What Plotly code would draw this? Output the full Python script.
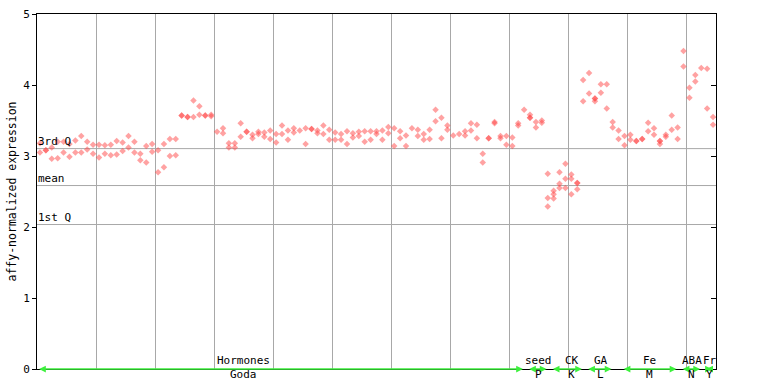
import plotly.graph_objects as go

# ---- data: replicate values per sample (None = no replicate) ----
rep1 = [3.18, 3.08, 3.12, 3.20, 3.20, 3.17, 3.22, 3.28, 3.20, 3.16,
        3.16, 3.15, 3.16, 3.21, 3.19, 3.28, 3.20, 3.03, 3.14, 3.17,
        3.08, 3.17, 3.24, 3.24, 3.57, 3.55, 3.78, 3.70, 3.57, 3.58,
        3.34, 3.39, 3.18, 3.18, 3.46, 3.34, 3.30, 3.34, 3.33, 3.36,
        3.31, 3.43, 3.36, 3.39, 3.36, 3.39, 3.38, 3.36, 3.43, 3.37,
        3.33, 3.31, 3.35, 3.32, 3.34, 3.35, 3.35, 3.35, 3.36, 3.41,
        3.39, 3.35, 3.29, 3.39, 3.37, 3.31, 3.37, 3.65, 3.54, 3.43,
        3.29, 3.31, 3.35, 3.46, 3.44, 3.03, 3.25, 3.48, 3.28, 3.28,
        3.26, 3.46, 3.65, 3.58, 3.48, 3.50, 2.75, 2.51, 2.77, 2.89,
        2.74, 2.62, 4.07, 4.17, 3.81, 4.01, 4.01, 3.48, 3.36, 3.28,
        3.30, 3.21, 3.24, 3.47, 3.39, 3.21, 3.30, 3.57, 3.40, 4.48,
        3.96, 4.14, 4.24, 4.23, 3.55]
rep2 = [3.05, 3.08, 2.96, 2.97, 3.05, 2.99, 3.05, 3.05, 3.09, 3.03,
        2.98, 3.03, 3.01, 3.02, 3.07, 3.12, 3.05, 2.94, 2.91, 3.06,
        2.77, 2.84, 3.00, 3.01, 3.57, 3.55, 3.55, 3.58, 3.57, 3.56,
        None, 3.32, 3.12, 3.12, 3.27, 3.34, 3.25, 3.31, 3.27, 3.24,
        3.19, 3.31, 3.23, 3.33, None, 3.17, 3.38, 3.32, 3.31, 3.23,
        3.23, 3.23, 3.17, 3.26, 3.28, 3.20, 3.23, 3.31, 3.23, 3.32,
        3.14, 3.25, 3.14, None, 3.28, 3.23, 3.24, 3.49, 3.25, 3.37,
        None, None, 3.29, 3.36, 3.25, 2.91, 3.25, 3.46, 3.25, 3.16,
        3.14, 3.43, None, 3.54, 3.40, 3.47, 2.41, 2.46, 2.61, 2.68,
        2.68, 2.62, 3.77, 3.88, 3.81, 3.89, 3.67, 3.40, 3.24, 3.15,
        3.23, 3.21, 3.24, 3.35, 3.30, 3.21, 3.27, 3.37, 3.24, 4.26,
        3.82, 4.05, None, 3.67, 3.44]
rep3 = [None] * 83 + [3.54, None, None, 2.29, 2.40, 2.55, 2.55, 2.46, 2.53,
                      None, None, 3.77] + [None] * 10 + [3.17] + [None] * 9

quartile_names = ["3rd Q", "mean", "1st Q"]
quartile_values = [3.104, 2.584, 2.035]

group_top = ["Hormones", "seed", "CK", "GA", "Fe", "ABA", "Fr"]
group_bottom = ["Goda", "P", "K", "L", "M", "N", "Y"]
group_start = [0, 83, 87, 93, 99, 109, 113]
group_end = [82, 86, 92, 97, 108, 112, 114]
group_label_x = [35.0, 85.0, 90.6, 95.5, 103.8, 110.9, 113.9]

y_ticks = [0, 1, 2, 3, 4, 5]

n = len(rep1)
xs = [i + 0.5 for i in range(n)]

MONO = "DejaVu Sans Mono"
RED = "rgba(255,70,70,0.5)"
GREEN = "#3cf03c"

fig = go.Figure()
for rep in (rep1, rep2, rep3):
    fig.add_trace(go.Scatter(
        x=xs, y=rep, mode="markers",
        marker=dict(symbol="diamond", size=5, color=RED, line=dict(width=0)),
        showlegend=False, hoverinfo="y"))

# invisible trace for right-side tick axis
fig.add_trace(go.Scatter(x=[0], y=[0], yaxis="y2", mode="markers",
                         marker=dict(opacity=0), showlegend=False, hoverinfo="skip"))

shapes = []
annotations = []
for name, val in zip(quartile_names, quartile_values):
    shapes.append(dict(type="line", xref="paper", x0=0, x1=1, yref="y", y0=val, y1=val,
                       line=dict(color="#a8a8a8", width=1), layer="below"))
    annotations.append(dict(xref="paper", x=0, yref="y", y=val, text=name, showarrow=False,
                            xanchor="left", yanchor="bottom", xshift=-1, yshift=-1,
                            font=dict(family=MONO, size=11, color="black")))

for top, bot, s, e, lx in zip(group_top, group_bottom, group_start, group_end, group_label_x):
    annotations.append(dict(xref="x", x=e + 0.3, yref="y", y=0, ax=s + 0.1, ay=0,
                            axref="x", ayref="y", text="", showarrow=True,
                            arrowside="end+start", arrowhead=2, arrowsize=0.9,
                            arrowwidth=1.5, arrowcolor=GREEN, standoff=0, startstandoff=0))
    annotations.append(dict(xref="x", x=lx, yref="paper", y=0, text=top, showarrow=False,
                            xanchor="center", yanchor="bottom", yshift=0,
                            font=dict(family=MONO, size=11, color="black")))
    annotations.append(dict(xref="x", x=lx, yref="paper", y=0, text=bot, showarrow=False,
                            xanchor="center", yanchor="top", yshift=3,
                            font=dict(family=MONO, size=11, color="black")))

annotations.append(dict(xref="paper", x=0, xshift=-26, yref="paper", y=0.5,
                        text="affy-normalized expression", textangle=-90, showarrow=False,
                        xanchor="center", yanchor="middle",
                        font=dict(family=MONO, size=11.5, color="black")))

fig.update_layout(
    width=768, height=384,
    margin=dict(l=37, r=52, t=14, b=15, autoexpand=False),
    paper_bgcolor="white", plot_bgcolor="white",
    shapes=shapes, annotations=annotations,
    xaxis=dict(range=[0, n], tick0=0, dtick=10, showgrid=True, gridcolor="#a8a8a8",
               gridwidth=1, showticklabels=False, ticks="", showline=True,
               linecolor="black", linewidth=1, mirror=True, zeroline=False),
    yaxis=dict(range=[0, 5], tickvals=y_ticks, ticktext=[str(t) for t in y_ticks],
               showgrid=False, ticks="outside", ticklen=4, tickcolor="black",
               showline=True, linecolor="black", linewidth=1, mirror=True, zeroline=False,
               tickfont=dict(family=MONO, size=11, color="black")),
    yaxis2=dict(range=[0, 5], overlaying="y", side="right", tickvals=y_ticks,
                showticklabels=False, ticks="inside", ticklen=5, tickcolor="black",
                showgrid=False, showline=False, zeroline=False),
)

fig.write_html("out.html", config={"displayModeBar": False},
               post_script="document.body.style.margin='0';document.body.style.overflow='hidden';")
